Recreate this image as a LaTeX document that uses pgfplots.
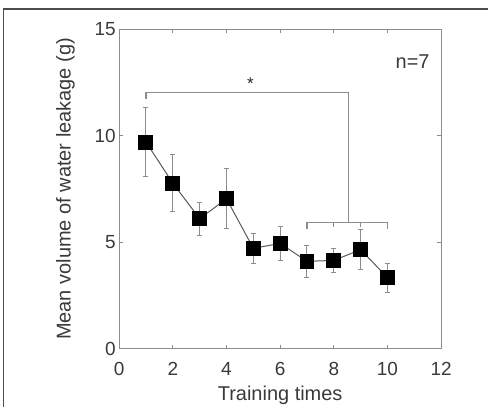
\documentclass[border=0pt]{standalone}
\usepackage{pgfplots}
\pgfplotsset{compat=1.18}
\usepackage{fontspec}
\setmainfont{Liberation Sans}
\definecolor{axgray}{HTML}{8C8C8C}
\definecolor{txtgray}{HTML}{3A3A3A}
\begin{document}
\begin{tikzpicture}
\begin{axis}[
    name=ax,
    scale only axis,
    width=322.4pt,
    height=319.7pt,
    xmin=0, xmax=12,
    ymin=0, ymax=15,
    xtick={0,2,...,12},
    ytick={0,5,10,15},
    tick align=inside,
    major tick length=4pt,
    axis line style={axgray, line width=1.3pt},
    tick style={axgray, line width=1pt},
    tick label style={font=\fontsize{19}{22}\selectfont, text=txtgray},
    label style={font=\fontsize{20}{24}\selectfont, text=txtgray},
    /pgf/number format/assume math mode=true,
    xlabel={Training times},
    ylabel={Mean volume of water leakage (g)},
    xlabel style={yshift=-4pt},
    ylabel style={yshift=13pt},
    xticklabel style={yshift=-10pt},
]
% significance brackets
\draw[axgray, line width=1.1pt] (axis cs:1,11.72) -- (axis cs:1,12.03) -- (axis cs:8.55,12.03) -- (axis cs:8.55,5.93);
\draw[axgray, line width=1.1pt] (axis cs:7,5.62) -- (axis cs:7,5.93) -- (axis cs:10,5.93) -- (axis cs:10,5.62);
\draw[axgray, line width=1.1pt] (axis cs:8,5.93) -- (axis cs:8,5.72);
\draw[axgray, line width=1.1pt] (axis cs:9,5.93) -- (axis cs:9,5.72);
\node[text=black!85, font=\fontsize{17}{17}\selectfont] at (axis cs:4.89,12.45) {*};
\node[text=txtgray, font=\fontsize{20}{24}\selectfont, anchor=east] at (axis cs:11.7,13.5) {n=7};

% mean +- error
\addplot[
    color=black!65, line width=1pt,
    mark=square*, mark size=7pt,
    mark options={fill=black, draw=black, solid},
    error bars/.cd,
        y dir=both, y explicit,
        error bar style={axgray, line width=1pt},
        error mark options={rotate=90, mark size=2.5pt, axgray, line width=1pt},
] coordinates {
    (1, 9.70)  +- (0, 1.62)
    (2, 7.77)  +- (0, 1.33)
    (3, 6.10)  +- (0, 0.77)
    (4, 7.04)  +- (0, 1.42)
    (5, 4.71)  +- (0, 0.70)
    (6, 4.94)  +- (0, 0.81)
    (7, 4.10)  +- (0, 0.75)
    (8, 4.14)  +- (0, 0.57)
    (9, 4.65)  +- (0, 0.93)
    (10, 3.33) +- (0, 0.68)
};
\end{axis}
% outer frame and page size
\draw[black!70, line width=1.2pt] ([shift={(-115.8pt,-58pt)}]ax.south west) -- ([shift={(-115.8pt,20.3pt)}]ax.north west) -- ([shift={(47.3pt,20.3pt)}]ax.north east);
\path ([shift={(-119.3pt,-58pt)}]ax.south west) ([shift={(47.3pt,29.3pt)}]ax.north east);
\end{tikzpicture}
\end{document}
